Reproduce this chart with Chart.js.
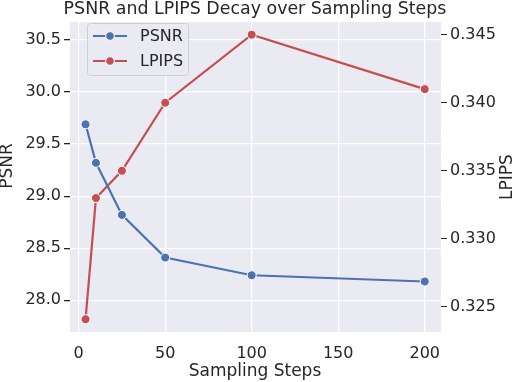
<!DOCTYPE html>
<html>
<head>
<meta charset="utf-8">
<script src="https://cdn.jsdelivr.net/npm/chart.js@4"></script>
<style>
  html, body { margin: 0; padding: 0; background: #fff; }
  #wrap { width: 518px; height: 382px; }
</style>
</head>
<body>
<div id="wrap"><canvas id="canvas" width="518" height="382"></canvas></div>
<script>
// values
var steps = [4, 10, 25, 50, 100, 200];
var psnr = [29.69, 29.32, 28.82, 28.41, 28.24, 28.18];
var lpips = [0.3241, 0.333, 0.335, 0.340, 0.345, 0.341];

var stepTicks = [0, 50, 100, 150, 200];
var psnrTicks = [28.0, 28.5, 29.0, 29.5, 30.0, 30.5];
var lpipsTicks = [0.325, 0.330, 0.335, 0.340, 0.345];

var blue = '#4C72B0';
var red = '#C44E52';
var ink = '#262626';
var font = 'DejaVu Sans';

function pts(ys) {
  return steps.map(function (x, i) { return { x: x, y: ys[i] }; });
}

// paint the grey plot area behind everything
var bg = {
  id: 'bg',
  beforeDraw: function (chart) {
    var c = chart.ctx, a = chart.chartArea;
    c.save();
    c.fillStyle = '#fff';
    c.fillRect(0, 0, chart.width, chart.height);
    c.fillStyle = '#EAEAF2';
    c.fillRect(a.left, a.top, a.right - a.left, a.bottom - a.top);
    c.restore();
  }
};

// legend inside the axes, upper left, like matplotlib
var boxLegend = {
  id: 'boxLegend',
  afterDraw: function (chart) {
    var c = chart.ctx;
    var x = 87, y = 23, w = 101, h = 52;
    c.save();
    c.fillStyle = 'rgba(234,234,242,0.85)';
    c.strokeStyle = '#cfcfcf';
    c.lineWidth = 1;
    c.beginPath();
    c.roundRect(x + 0.5, y + 0.5, w, h, 3);
    c.fill();
    c.stroke();
    chart.data.datasets.forEach(function (ds, i) {
      var cy = 36 + i * 25;
      c.strokeStyle = ds.borderColor;
      c.lineWidth = 2.2;
      c.beginPath();
      c.moveTo(93, cy);
      c.lineTo(127, cy);
      c.stroke();
      c.fillStyle = ds.borderColor;
      c.strokeStyle = '#fff';
      c.lineWidth = 1;
      c.beginPath();
      c.arc(110, cy, 4.3, 0, Math.PI * 2);
      c.fill();
      c.stroke();
      c.fillStyle = ink;
      c.font = '16px "' + font + '"';
      c.textBaseline = 'middle';
      c.fillText(ds.label, 140, cy + 1);
    });
    c.restore();
  }
};

// titles drawn by hand so they sit where matplotlib put them
var sideTitles = {
  id: 'sideTitles',
  afterDraw: function (chart) {
    var c = chart.ctx;
    c.save();
    c.fillStyle = ink;
    c.textAlign = 'center';
    c.textBaseline = 'middle';
    c.font = '17.4px "' + font + '"';
    c.fillText('PSNR and LPIPS Decay over Sampling Steps', 255, 9);
    c.font = '17px "' + font + '"';
    c.fillText('Sampling Steps', 255, 372);
    c.restore();
    [['PSNR', 8, 166], ['LPIPS', 508, 177]].forEach(function (t) {
      c.save();
      c.translate(t[1], t[2]);
      c.rotate(-Math.PI / 2);
      c.fillStyle = ink;
      c.font = '17px "' + font + '"';
      c.textAlign = 'center';
      c.textBaseline = 'middle';
      c.fillText(t[0], 0, 0);
      c.restore();
    });
  }
};

var chart = new Chart(document.getElementById('canvas').getContext('2d'), {
  type: 'line',
  data: {
    datasets: [{
      label: 'PSNR',
      data: pts(psnr),
      yAxisID: 'y',
      borderColor: blue,
      backgroundColor: blue,
      borderWidth: 2.2,
      pointRadius: 4.5,
      pointBorderColor: '#fff',
      pointBorderWidth: 1,
      tension: 0
    }, {
      label: 'LPIPS',
      data: pts(lpips),
      yAxisID: 'y1',
      borderColor: red,
      backgroundColor: red,
      borderWidth: 2.2,
      pointRadius: 4.5,
      pointBorderColor: '#fff',
      pointBorderWidth: 1,
      tension: 0
    }]
  },
  options: {
    responsive: false,
    animation: false,
    layout: { padding: { top: 22 } },
    plugins: {
      legend: { display: false },
      tooltip: { enabled: false },
      title: { display: false }
    },
    scales: {
      x: {
        type: 'linear',
        min: -5,
        max: 209.4,
        afterBuildTicks: function (s) { s.ticks = stepTicks.map(function (v) { return { value: v }; }); },
        afterFit: function (s) { s.height = 50; },
        border: { display: false },
        grid: { color: '#fff', lineWidth: 1.3, drawTicks: false },
        ticks: { color: ink, font: { family: font, size: 16 }, padding: 12, maxRotation: 0 }
      },
      y: {
        position: 'left',
        min: 27.695,
        max: 30.673,
        afterBuildTicks: function (s) { s.ticks = psnrTicks.map(function (v) { return { value: v }; }); },
        afterFit: function (s) { s.width = 70; },
        border: { display: false },
        grid: { color: '#fff', lineWidth: 1.3, tickColor: ink, tickLength: 6 },
        ticks: {
          color: ink, font: { family: font, size: 16 }, padding: 3,
          callback: function (v) { return Number(v).toFixed(1); }
        }
      },
      y1: {
        position: 'right',
        min: 0.32316,
        max: 0.34593,
        afterBuildTicks: function (s) { s.ticks = lpipsTicks.map(function (v) { return { value: v }; }); },
        afterFit: function (s) { s.width = 77; },
        border: { display: false },
        grid: { drawOnChartArea: false, tickColor: ink, tickLength: 6 },
        ticks: {
          color: ink, font: { family: font, size: 16 }, padding: 3,
          callback: function (v) { return Number(v).toFixed(3); }
        }
      }
    }
  },
  plugins: [bg, boxLegend, sideTitles]
});
</script>
</body>
</html>
